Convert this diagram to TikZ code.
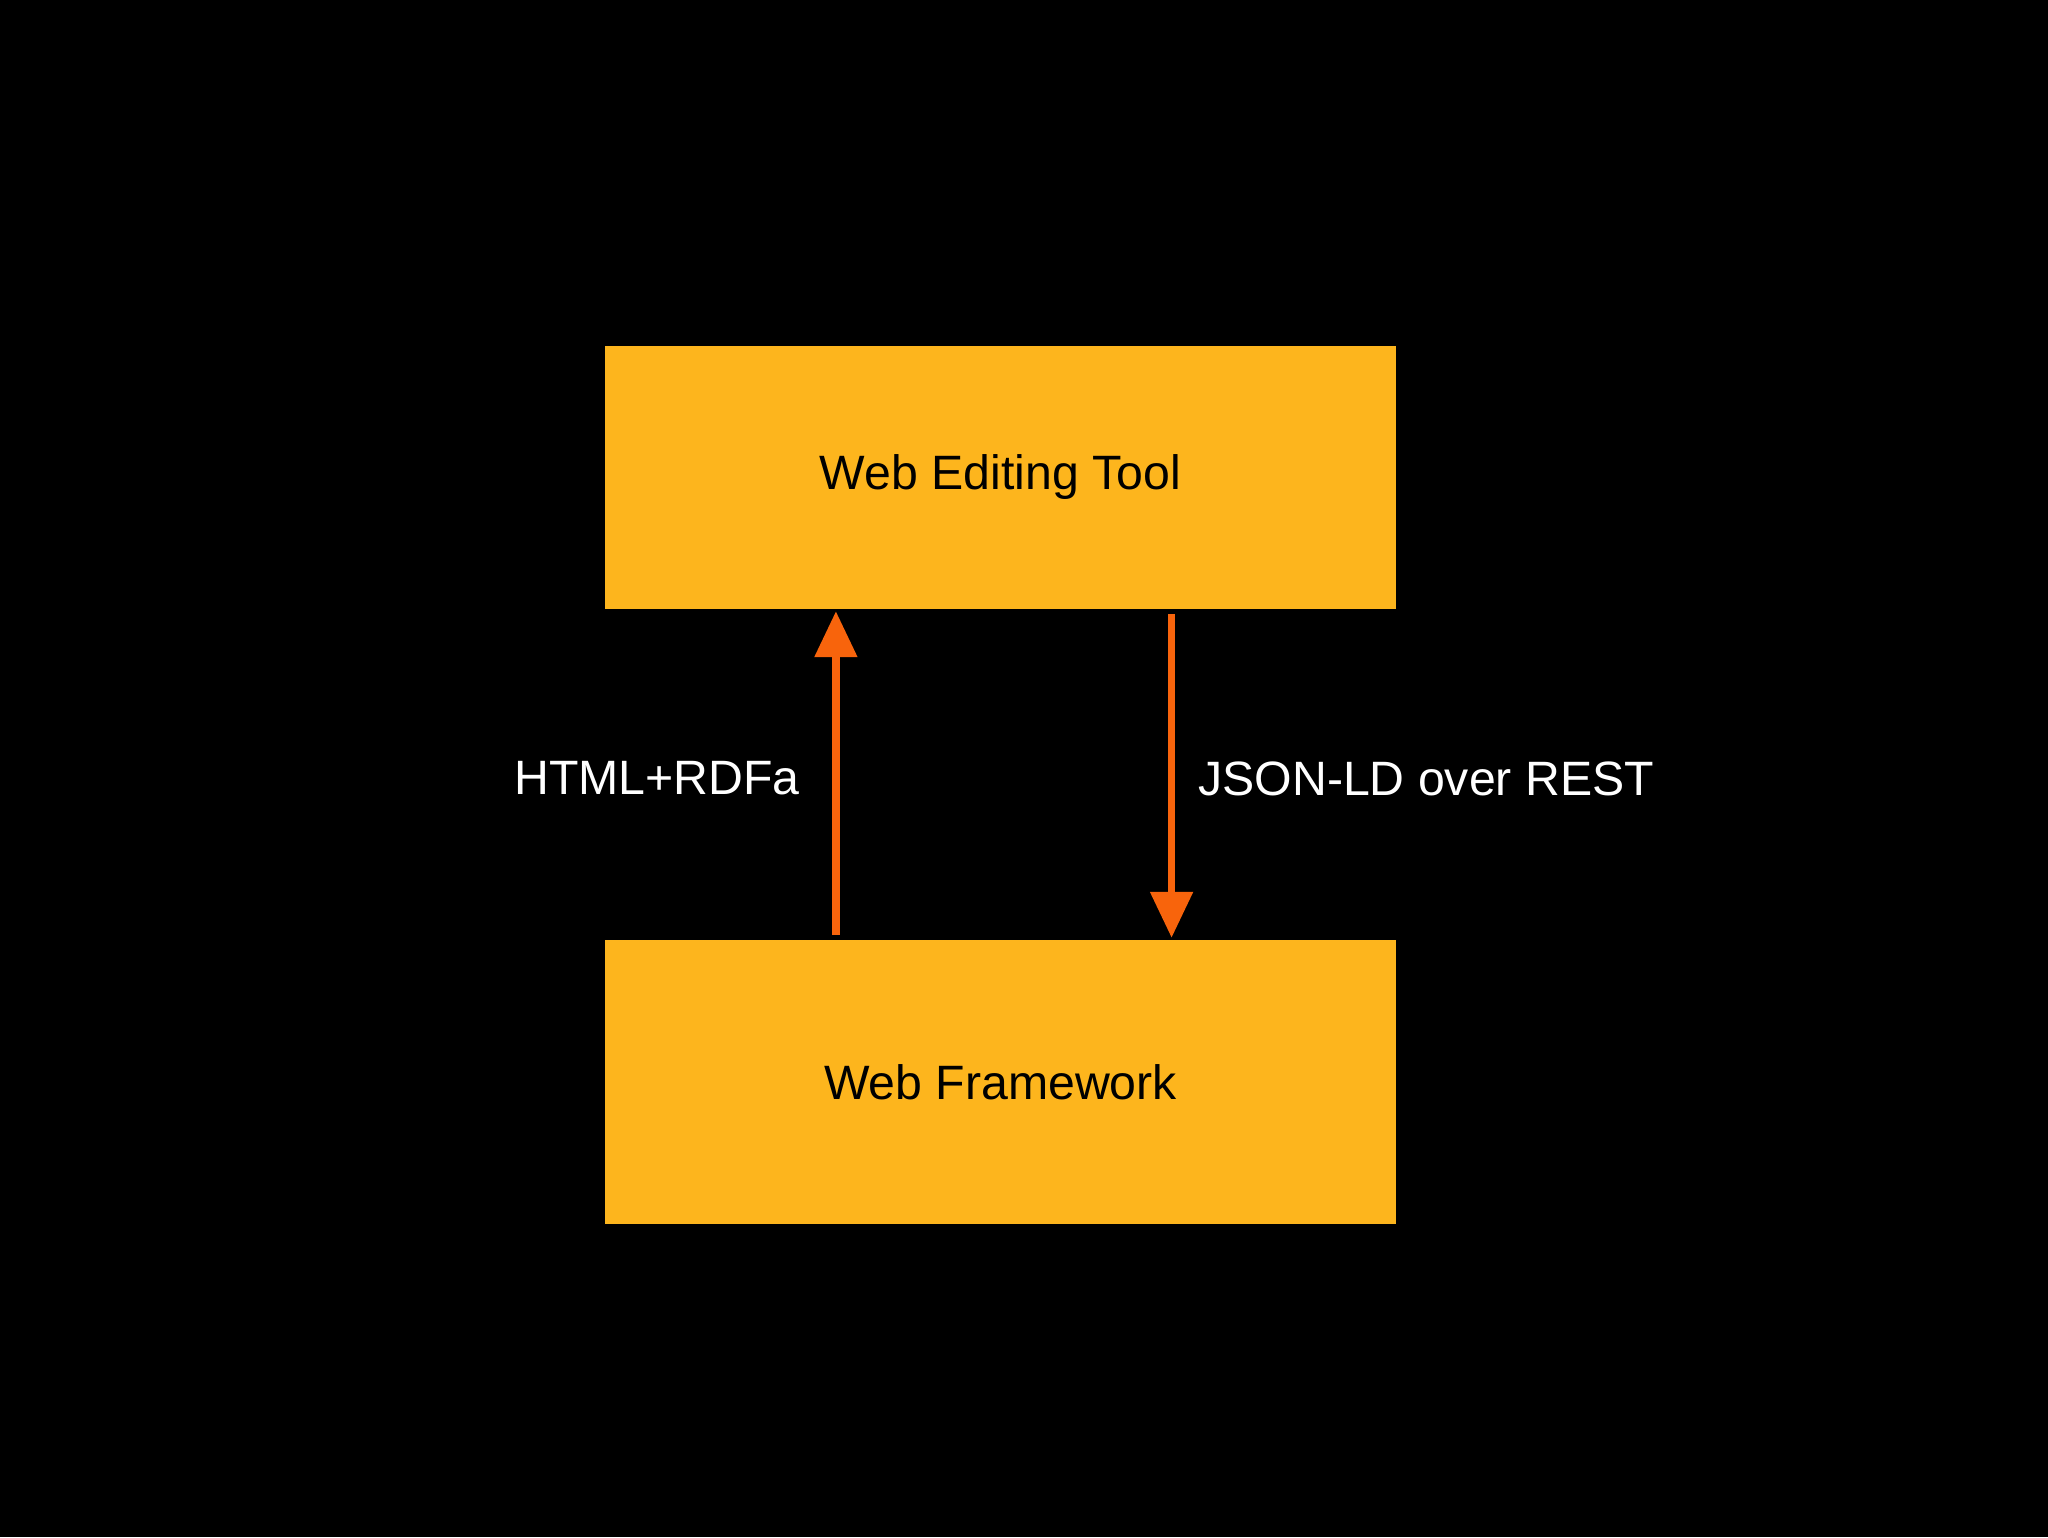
\documentclass[tikz,border=0pt]{standalone}
\usepackage{fontspec}
\setmainfont{Liberation Sans}
\usetikzlibrary{arrows.meta}
\definecolor{boxorange}{HTML}{FDB51D}
\definecolor{arroworange}{HTML}{F8640C}
\begin{document}
\begin{tikzpicture}
[x = 0.01cm, y = -0.01cm,
 block/.style = {fill = boxorange, inner sep = 0pt, font = \fontsize{10.5}{12}\selectfont},
 flow/.style = {draw = arroworange, line width = 1.6pt, -{Triangle[length=10pt,width=9pt]}},
 tag/.style = {text = white, font = \fontsize{10.5}{12}\selectfont}
 ]
\fill [black] (0,0) rectangle (1568,1177);
\node [block, minimum width = 6.06cm, minimum height = 2.01cm] (tool) at (766,365.5) {Web Editing Tool};
\node [block, minimum width = 6.06cm, minimum height = 2.17cm] (frame) at (766,828.5) {Web Framework};
\coordinate (upstart) at (640,716);
\coordinate (upend) at (640,468);
\coordinate (downstart) at (897,470);
\coordinate (downend) at (897,718);
\draw [flow] (upstart) -- (upend);
\draw [flow] (downstart) -- (downend);
\node [tag] (html) at (503,596) {HTML+RDFa};
\node [tag] (json) at (1092,596) {JSON-LD over REST};
\end{tikzpicture}
\end{document}
